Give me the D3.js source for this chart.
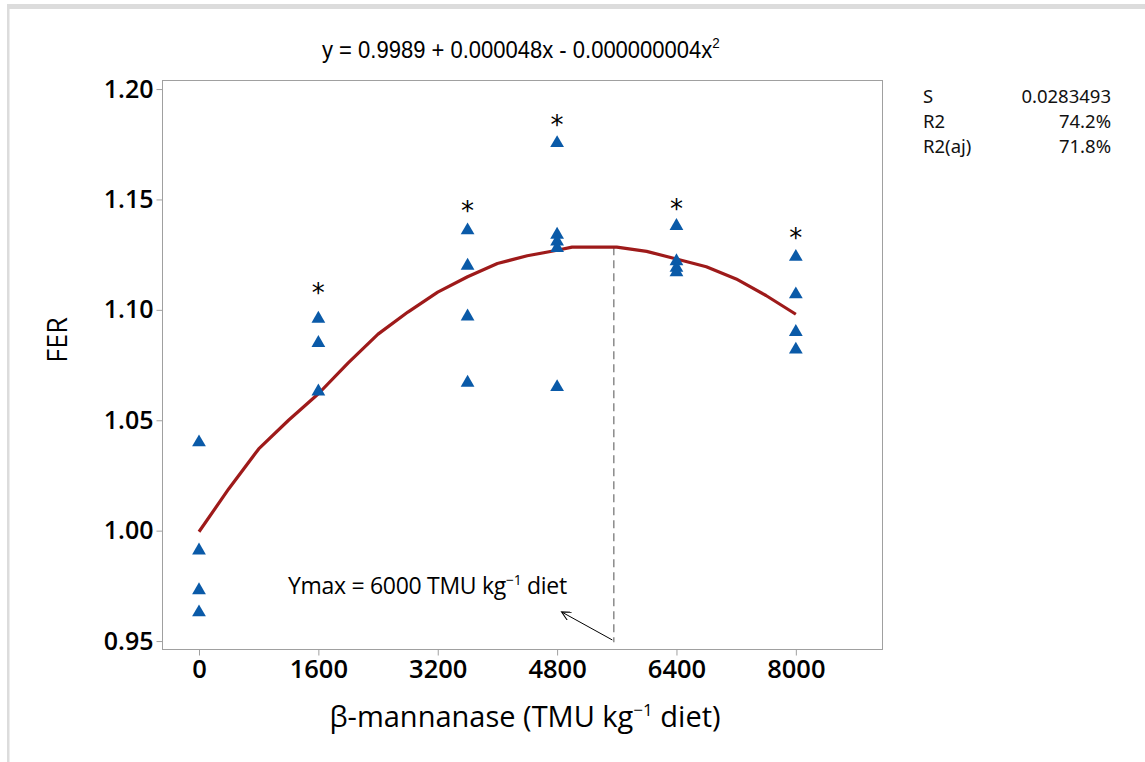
<!DOCTYPE html>
<html>
<head>
<meta charset="utf-8">
<script src="https://cdn.jsdelivr.net/npm/d3@7"></script>
<style>
  html, body { margin: 0; padding: 0; background: #fff; }
  svg { display: block; }
</style>
</head>
<body>
<svg id="chart" width="1145" height="762"></svg>
<script>
// ---- data ----
const xTicks = [0, 1600, 3200, 4800, 6400, 8000];
const yTicks = [0.95, 1.00, 1.05, 1.10, 1.15, 1.20];
const pointX = [0, 0, 0, 0,
                1600, 1600, 1600,
                3600, 3600, 3600, 3600,
                4800, 4800, 4800, 4800, 4800,
                6400, 6400, 6400, 6400,
                8000, 8000, 8000, 8000];
const pointY = [1.040, 0.991, 0.973, 0.963,
                1.096, 1.085, 1.063,
                1.136, 1.120, 1.097, 1.067,
                1.1755, 1.134, 1.131, 1.128, 1.065,
                1.138, 1.122, 1.119, 1.117,
                1.124, 1.107, 1.090, 1.082];
const starX = [1600, 3600, 4800, 6400, 8000];
const starY = [1.110, 1.147, 1.186, 1.148, 1.135];
const curveX = [0, 400, 800, 1200, 1600, 2000, 2400, 2800, 3200, 3600, 4000, 4400, 4800, 5000, 5600, 6000, 6400, 6800, 7200, 7600, 8000];
const curveY = [0.9995, 1.019, 1.037, 1.050, 1.062, 1.076, 1.089, 1.099, 1.108, 1.115, 1.121, 1.1245, 1.127, 1.1284, 1.1284, 1.1265, 1.123, 1.1195, 1.114, 1.1065, 1.098];
const ymaxX = 5560;
const ymaxTop = 1.1284;
const ymaxBottom = 0.9495;
const arrowFrom = [5540, 0.9505];
const arrowTo = [4870, 0.963];
const equation = "y = 0.9989 + 0.000048x - 0.000000004x";
const statLabels = ["S", "R2", "R2(aj)"];
const statValues = ["0.0283493", "74.2%", "71.8%"];

// ---- layout ----
const svg = d3.select("#chart");
const W = 1145, H = 762;
const frame = { left: 162, right: 882, top: 80, bottom: 649 };

const x = d3.scaleLinear().domain([-496, 9155]).range([frame.left, frame.right]);
const y = d3.scaleLinear().domain([0.9464, 1.2041]).range([frame.bottom, frame.top]);

// page borders
svg.append("rect").attr("x", 7).attr("y", 4).attr("width", W - 7).attr("height", 5).attr("fill", "#dcdcdc");
svg.append("rect").attr("x", 7).attr("y", 4).attr("width", 2.5).attr("height", H - 4).attr("fill", "#dcdcdc");

// frame
svg.append("rect")
  .attr("x", frame.left + 0.5).attr("y", frame.top + 0.5)
  .attr("width", frame.right - frame.left).attr("height", frame.bottom - frame.top)
  .attr("fill", "none").attr("stroke", "#a0a0a0").attr("stroke-width", 1);

const tickFont = "'Open Sans', 'Noto Sans', sans-serif";

// x axis
const xAxis = svg.append("g").attr("transform", `translate(0,${frame.bottom + 0.5})`)
  .call(d3.axisBottom(x).tickValues(xTicks).tickFormat(d3.format("d")).tickSize(6).tickPadding(4));
xAxis.select(".domain").remove();
xAxis.selectAll(".tick line").attr("stroke", "#a0a0a0");
xAxis.selectAll(".tick text").attr("fill", "#000").style("font-family", tickFont)
  .style("font-size", "25.5px").style("font-weight", "600");

// y axis
const yAxis = svg.append("g").attr("transform", `translate(${frame.left + 0.5},0)`)
  .call(d3.axisLeft(y).tickValues(yTicks).tickFormat(d3.format(".2f")).tickSize(6).tickPadding(3));
yAxis.select(".domain").remove();
yAxis.selectAll(".tick line").attr("stroke", "#a0a0a0");
yAxis.selectAll(".tick text").attr("fill", "#000").style("font-family", tickFont)
  .style("font-size", "25px").style("font-weight", "600");

// axis titles
const xt = svg.append("text").attr("x", 525).attr("y", 727).attr("text-anchor", "middle")
  .style("font-family", tickFont).style("font-size", "29px").attr("fill", "#000");
xt.append("tspan").text("β-mannanase (TMU kg");
xt.append("tspan").attr("dy", -11).style("font-size", "17px").text("−1");
xt.append("tspan").attr("dy", 11).text(" diet)");

svg.append("text").attr("transform", `translate(67,340) rotate(-90)`).attr("text-anchor", "middle")
  .style("font-family", tickFont).style("font-size", "27px").attr("fill", "#000").text("FER");

// equation title (condensed to the reference width)
const eqG = svg.append("g");
const eq = eqG.append("text").attr("x", 0).attr("y", 0)
  .style("font-family", "'Liberation Sans', 'Roboto', sans-serif").style("font-size", "23px").attr("fill", "#000");
eq.append("tspan").text(equation);
eq.append("tspan").attr("dy", -10).style("font-size", "14px").text("2");
const eqW = eq.node().getComputedTextLength();
const targetW = 398;
eqG.attr("transform", `translate(${521 - targetW / 2},58) scale(${targetW / eqW},1)`);

// stats
const statFont = "'Noto Sans', 'Open Sans', sans-serif";
statLabels.forEach((s, i) => {
  svg.append("text").attr("x", 923).attr("y", 103 + i * 25).style("font-family", statFont)
    .style("font-size", "18.5px").attr("fill", "#111").text(s);
  svg.append("text").attr("x", 1111).attr("y", 103 + i * 25).attr("text-anchor", "end").style("font-family", statFont)
    .style("font-size", "18.5px").attr("fill", "#111").text(statValues[i]);
});

// dashed vertical line
svg.append("line")
  .attr("x1", x(ymaxX)).attr("x2", x(ymaxX))
  .attr("y1", y(ymaxTop)).attr("y2", y(ymaxBottom))
  .attr("stroke", "#8a8a8a").attr("stroke-width", 1.5).attr("stroke-dasharray", "8,5");

// fitted curve
const line = d3.line().x(d => x(d[0])).y(d => y(d[1]));
svg.append("path").datum(curveX.map((v, i) => [v, curveY[i]]))
  .attr("d", line).attr("fill", "none").attr("stroke", "#9e1a1a").attr("stroke-width", 3.2)
  .attr("stroke-linejoin", "round");

// points (triangles)
const tri = d3.symbol().type(d3.symbolTriangle).size(82);
svg.append("g").selectAll("path").data(pointX.map((v, i) => [v, pointY[i]])).join("path")
  .attr("d", tri).attr("transform", d => `translate(${x(d[0])},${y(d[1])})`)
  .attr("fill", "#0a5aa8");

// asterisks
svg.append("g").selectAll("text").data(starX.map((v, i) => [v, starY[i]])).join("text")
  .attr("x", d => x(d[0])).attr("y", d => y(d[1]) + 14).attr("text-anchor", "middle")
  .style("font-family", "'DejaVu Sans', sans-serif").style("font-size", "26px").attr("fill", "#000").text("*");

// annotation
const ann = svg.append("text").attr("x", 288).attr("y", 594)
  .style("font-family", tickFont).style("font-size", "23px").attr("fill", "#000").style("letter-spacing", "-0.3px");
ann.append("tspan").text("Ymax = 6000 TMU kg");
ann.append("tspan").attr("dy", -9).style("font-size", "14px").text("−1");
ann.append("tspan").attr("dy", 9).text(" diet");

// arrow
const defs = svg.append("defs");
defs.append("marker").attr("id", "ah").attr("viewBox", "0 0 10 10").attr("refX", 9).attr("refY", 5)
  .attr("markerWidth", 12).attr("markerHeight", 9).attr("markerUnits", "userSpaceOnUse").attr("orient", "auto")
  .append("path").attr("d", "M0,0 L10,5 L0,10").attr("fill", "none").attr("stroke", "#000").attr("stroke-width", 1.2);
svg.append("line")
  .attr("x1", x(arrowFrom[0])).attr("y1", y(arrowFrom[1]))
  .attr("x2", x(arrowTo[0])).attr("y2", y(arrowTo[1]))
  .attr("stroke", "#000").attr("stroke-width", 1).attr("marker-end", "url(#ah)");
</script>
</body>
</html>
